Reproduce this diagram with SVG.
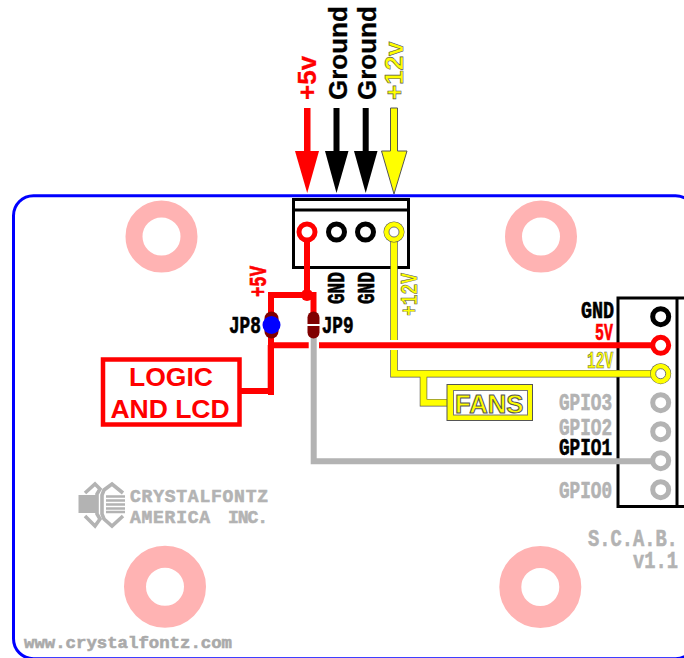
<svg xmlns="http://www.w3.org/2000/svg" width="684" height="658" viewBox="0 0 684 658">
<style>
.sans{font-family:"Liberation Sans",Arial,sans-serif;font-weight:700;stroke-width:.3px}
.mono{font-family:"Liberation Mono","Courier New",monospace;font-weight:700;font-size:23px;stroke-width:.6px}
.big{font-size:26px}
.logic{font-size:26.5px;fill:#f00;text-anchor:middle}
.red{fill:#f00;stroke:#f00}.blk{fill:#000;stroke:#000}.gry{fill:#b3b3b3;stroke:#b3b3b3}
.yel{fill:#ff0;stroke:#555;stroke-width:.6px}
.wire{fill:none;stroke-linejoin:miter}
.pad{fill:#fff;stroke-width:5}
.mount{fill:#fff;stroke:#ffb3b3}
.logo{fill:none;stroke:#b3b3b3;stroke-width:3.6}
</style>
<rect width="684" height="658" fill="#fff"/>
<g id="board"><rect x="13.5" y="195.7" width="682" height="463" rx="20" fill="none" stroke="#00f" stroke-width="3"/></g>
<g id="mount-holes">
<circle class="mount" cx="161.5" cy="236.5" r="27.5" stroke-width="17"/>
<circle class="mount" cx="541" cy="236.5" r="27.5" stroke-width="17"/>
<circle class="mount" cx="165" cy="586.7" r="30" stroke-width="22"/>
<circle class="mount" cx="540.3" cy="587" r="30" stroke-width="22"/>
</g>
<g id="power-labels">
<text class="sans big red" transform="translate(316,100) rotate(-90)">+5v</text>
<text class="sans big blk" transform="translate(346.7,100) rotate(-90)">Ground</text>
<text class="sans big blk" transform="translate(375.7,100) rotate(-90)">Ground</text>
<text class="sans big yel" transform="translate(403,100) rotate(-90)">+12v</text>
</g>
<g id="connector-top">
<rect x="293.5" y="199.5" width="115" height="68" fill="#fff" stroke="#000" stroke-width="3"/>
<path d="M293 210H409" stroke="#000" stroke-width="3"/>
</g>
<g id="connector-right">
<path d="M684 298H618V506.500H684M677 298V506.500" fill="#fff" stroke="#000" stroke-width="3"/>
</g>
<g id="connectors">
<g>
<rect x="304" y="108" width="6.500" height="46" fill="#f00"/><polygon points="295,151 319,151 307.200,193" fill="#f00"/>
<rect x="333.500" y="108" width="6" height="46" fill="#000"/><polygon points="325,151 348.500,151 336.500,193" fill="#000"/>
<rect x="362.700" y="108" width="6" height="46" fill="#000"/><polygon points="354,151 377.500,151 365.700,193" fill="#000"/>
<path d="M390.500 108H397.500V151H407L394 194L381.500 151H390.500Z" fill="#ff0" stroke="#555" stroke-width="1"/>
</g>
<path class="wire" d="M394 232V373.700H660M423.500 373.700V402.700H448" stroke="#555" stroke-width="7.500"/>
<path class="wire" d="M394 232V373.700H660M423.500 373.700V402.700H448" stroke="#ff0" stroke-width="6.200"/>
<rect x="388" y="340" width="12" height="10" fill="#fff"/>
<path class="wire" d="M307 232V295M271 395V295H313.500V315" stroke="#f00" stroke-width="6"/>
<circle cx="307" cy="295" r="6" fill="#f00"/>
<path class="wire" d="M271 345.300H660" stroke="#f00" stroke-width="6"/>
<rect x="308.700" y="340" width="10.300" height="11" fill="#fff"/>
<path class="wire" d="M241 391H270.700V345" stroke="#f00" stroke-width="6"/>
<path class="wire" d="M313.700 336V461.300H660" stroke="#b3b3b3" stroke-width="6"/>
</g>
<g id="pads-top">
<circle class="pad" cx="307" cy="232" r="8" stroke="#f00"/>
<circle class="pad" cx="336.500" cy="232" r="8" stroke="#000"/>
<circle class="pad" cx="365.500" cy="232" r="8" stroke="#000"/>
<circle cx="394" cy="232" r="10.500" fill="#555"/><circle class="pad" cx="394" cy="232" r="7.500" stroke="#ff0"/><circle cx="394" cy="232" r="5" fill="#fff" stroke="#555" stroke-width=".8"/>
</g>
<g id="pads-right">
<circle class="pad" cx="660.700" cy="316.700" r="8" stroke="#000"/>
<circle class="pad" cx="660.700" cy="345.300" r="8" stroke="#f00"/>
<circle cx="660.700" cy="373.700" r="10.500" fill="#555"/><circle class="pad" cx="660.700" cy="373.700" r="7.500" stroke="#ff0"/><circle cx="660.700" cy="373.700" r="5" fill="#fff" stroke="#555" stroke-width=".8"/>
<circle class="pad" cx="660.700" cy="402.700" r="8" stroke="#b3b3b3"/>
<circle class="pad" cx="660.700" cy="431.700" r="8" stroke="#b3b3b3"/>
<circle class="pad" cx="660.700" cy="460.700" r="8" stroke="#b3b3b3"/>
<circle class="pad" cx="660.700" cy="489.700" r="8" stroke="#b3b3b3"/>
</g>
<g id="jp8">
<rect x="264.500" y="311.500" width="14" height="27" rx="7" fill="#800000"/>
<circle cx="271.500" cy="325" r="9" fill="#00f"/>
<text class="mono blk" transform="translate(229,332.700) scale(.77,1)">JP8</text>
</g>
<g id="jp9">
<rect x="307.500" y="311.500" width="12" height="27" rx="6" fill="#800000"/>
<rect x="306" y="324" width="15" height="2" fill="#fff"/>
<text class="mono blk" transform="translate(321.700,332.700) scale(.77,1)">JP9</text>
</g>
<g id="board-labels">
<text class="mono red" transform="translate(265.700,297) rotate(-90) scale(.75,1)">+5V</text>
<text class="mono blk" transform="translate(344,304) rotate(-90) scale(.77,1)">GND</text>
<text class="mono blk" transform="translate(374,304) rotate(-90) scale(.77,1)">GND</text>
<text class="mono yel" transform="translate(416.700,316) rotate(-90) scale(.78,1)">+12V</text>
</g>
<g id="logic-lcd">
<rect x="103" y="359.500" width="136.500" height="65" fill="#fff" stroke="#f00" stroke-width="4.500"/>
<text class="sans logic" x="171" y="385.700">LOGIC</text>
<text class="sans logic" x="170" y="418">AND LCD</text>
</g>
<g id="fans">
<rect x="447" y="384.500" width="85.500" height="36" fill="#ff0" stroke="#555" stroke-width="1"/>
<rect x="453.500" y="390.500" width="74" height="24.500" fill="#fff" stroke="#777" stroke-width="1"/>
<text class="sans yel" x="455" y="413" font-size="25.700" style="stroke-width:1px">FANS</text>
</g>
<g id="right-labels">
<text class="mono blk" transform="translate(581,318) scale(.8,1)">GND</text>
<text class="mono red" transform="translate(595,340) scale(.65,1)">5V</text>
<text class="mono yel" transform="translate(587,368) scale(.63,1)">12V</text>
<text class="mono gry" transform="translate(559,410) scale(.77,1)">GPIO3</text>
<text class="mono gry" transform="translate(559,435) scale(.77,1)">GPIO2</text>
<text class="mono blk" transform="translate(559,455) scale(.77,1)">GPIO1</text>
<text class="mono gry" transform="translate(559,498) scale(.77,1)">GPIO0</text>
<text class="mono gry" transform="translate(588,545.700) scale(.78,1)" style="font-size:24px">S.C.A.B.</text>
<text class="mono gry" transform="translate(633,568.300) scale(.78,1)" style="font-size:24px">v1.1</text>
</g>
<g id="logo">
<rect x="78.500" y="495" width="17.500" height="18" fill="#b3b3b3"/>
<path d="M106 496.500H125M106 500.500H125M106 504.500H125M106 508.500H125M106 512H125" stroke="#b3b3b3" stroke-width="2.400"/>
<path class="logo" d="M85 493L95 484L100 489L97 494V514L100 519L95 526L85 516"/>
<path class="logo" d="M123 493L112 484L104 490L102 495V514L104 519L112 526L123 516"/>
<text class="mono gry" x="130" y="501.700" style="font-size:18px" textLength="138" lengthAdjust="spacing">CRYSTALFONTZ</text>
<text class="mono gry" x="130" y="522.700" style="font-size:18px"><tspan textLength="80" lengthAdjust="spacing">AMERICA</tspan> <tspan x="228" textLength="40" lengthAdjust="spacing">INC.</tspan></text>
<text class="mono" x="24" y="648" style="font-size:17px;fill:#aaa;stroke:#aaa" textLength="208" lengthAdjust="spacingAndGlyphs">www.crystalfontz.com</text>
</g>
</svg>
